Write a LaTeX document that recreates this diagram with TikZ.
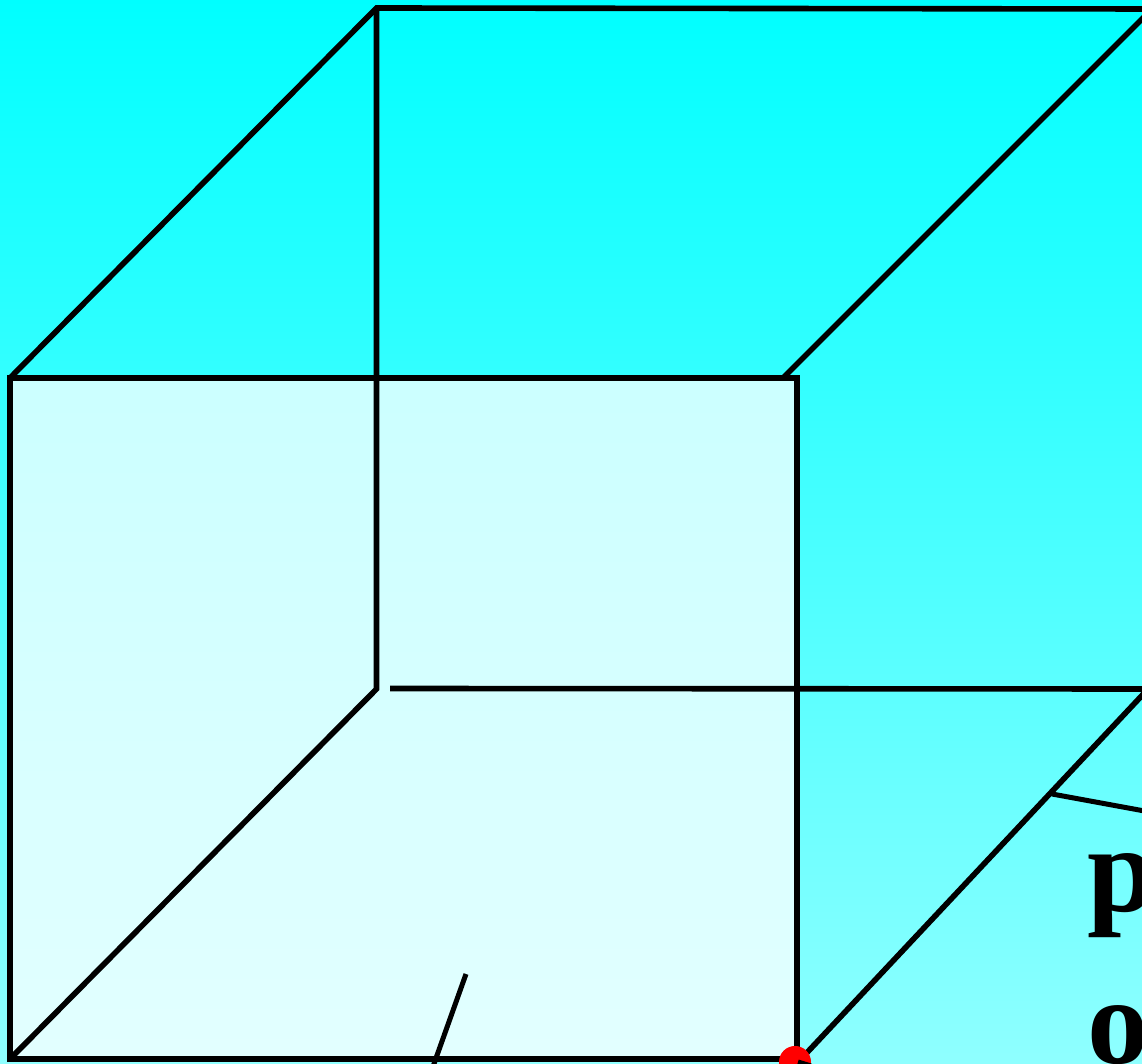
\documentclass[tikz,border=0pt]{standalone}
\usepackage{fontspec}
\setmainfont{Liberation Serif}
\usepackage{tikz}
\definecolor{SkyTop}{RGB}{0, 255, 255}
\definecolor{SkyBottom}{RGB}{143, 255, 255}
\definecolor{DotRed}{RGB}{255, 0, 0}
\begin{document}
\begin{tikzpicture}[
    x=0.01cm, y=-0.01cm,
    edge/.style={draw=black, line width=0.056cm},
    thin edge/.style={draw=black, line width=0.05cm},
    face/.style={fill=white, fill opacity=0.75},
    letter/.style={anchor=base west, inner sep=0pt, font=\fontsize{35}{42}\selectfont\bfseries}
]
\useasboundingbox (0, 0) rectangle (1142, 1064);
\clip (0, 0) rectangle (1142, 1064);

% === BACKGROUND ===
\shade[top color=SkyTop, bottom color=SkyBottom] (0, 0) rectangle (1142, 1064);

% === CORNERS ===
\coordinate (frontTL) at (10, 378);
\coordinate (frontTR) at (797, 378);
\coordinate (frontBR) at (797, 1059);
\coordinate (frontBL) at (10, 1059);
\coordinate (backTL) at (376.5, 8);
\coordinate (backTR) at (1150, 9);
\coordinate (backBL) at (376.5, 689);
\coordinate (backGap) at (390, 688.5);
\coordinate (backBR) at (1150, 689);
\coordinate (topStart) at (783, 378);
\coordinate (topEnd) at (1153, 8);
\coordinate (floorStart) at (801, 1059);
\coordinate (floorEnd) at (1149, 688);

% === CUBE ===
\fill[face] (frontTL) rectangle (frontBR);
\draw[edge] (frontTL) -- (backTL) -- (backTR);
\draw[edge] (backTL) -- (backBL) -- (frontBL);
\draw[edge] (backGap) -- (backBR);
\draw[edge] (topStart) -- (topEnd);
\draw[edge] (floorStart) -- (floorEnd);
\draw[edge] (frontTL) rectangle (frontBR);

% === LEADERS ===
\coordinate (leadA1) at (1052, 794);
\coordinate (leadA2) at (1150, 812);
\coordinate (leadB1) at (466, 974);
\coordinate (leadB2) at (430, 1075);
\coordinate (leadC1) at (798, 1062);
\coordinate (leadC2) at (811, 1066);
\draw[thin edge] (leadA1) -- (leadA2);
\draw[thin edge] (leadB1) -- (leadB2);

% === DOT ===
\node[circle, fill=DotRed, inner sep=0pt, minimum size=0.32cm] (dot) at (795, 1062) {};
\draw[thin edge] (leadC1) -- (leadC2);

% === LETTERS ===
\node[letter] (letterP) at (1087, 911) {p};
\node[letter] (letterO) at (1087, 1063) {o};

\end{tikzpicture}
\end{document}
